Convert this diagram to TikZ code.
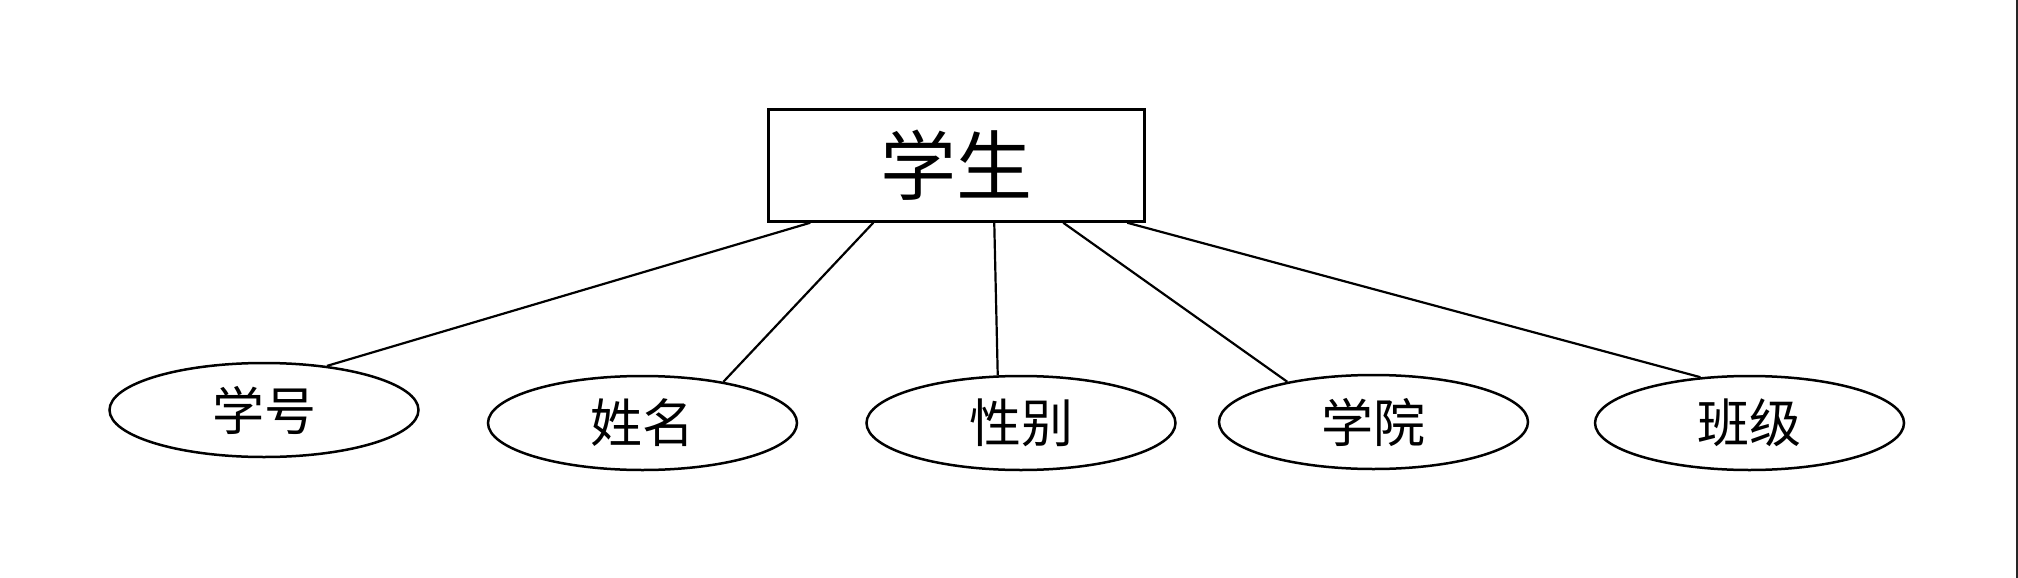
\documentclass[tikz,border=0pt]{standalone}
\usepackage{fontspec}
\newfontfamily\cjk{Noto Sans CJK SC}
\usetikzlibrary{shapes.geometric,calc}
\tikzset{
  entity/.style={draw=black, line width=2.5pt, rectangle, minimum width=376pt, minimum height=112pt, inner sep=0pt, font=\cjk\fontsize{76pt}{80pt}\selectfont},
  attr/.style={draw=black, line width=2.5pt, ellipse, minimum width=309pt, minimum height=94pt, inner sep=0pt, font=\cjk\fontsize{52pt}{56pt}\selectfont},
  link/.style={draw=black, line width=2.2pt}
}
\begin{document}
\begin{tikzpicture}[x=1pt,y=-1pt]
\useasboundingbox (0,0) rectangle (2018,578);
\fill[white] (0,0) rectangle (2018,578);
\draw[line width=2pt, black!85] (2016.5,0) -- (2016.5,578);
\node[entity] (r) at (956.5,165.5) {学生};
\node[attr] (e1) at (264,410) {学号};
\node[attr] (e2) at (642.5,423) {姓名};
\node[attr] (e3) at (1021,423) {性别};
\node[attr] (e4) at (1373.5,422) {学院};
\node[attr] (e5) at (1749.5,423) {班级};
\draw[link] ($(r.south west)+(43,0)$) -- (e1.35);
\draw[link] ($(r.south west)+(106,0)$) -- (e2.27.5);
\draw[link] ($(r.south west)+(227,0)$) -- (e3.116);
\draw[link] ($(r.south west)+(296,0)$) -- (e4.155.4);
\draw[link] ($(r.south west)+(360,0)$) -- (e5.137.6);
\end{tikzpicture}
\end{document}
